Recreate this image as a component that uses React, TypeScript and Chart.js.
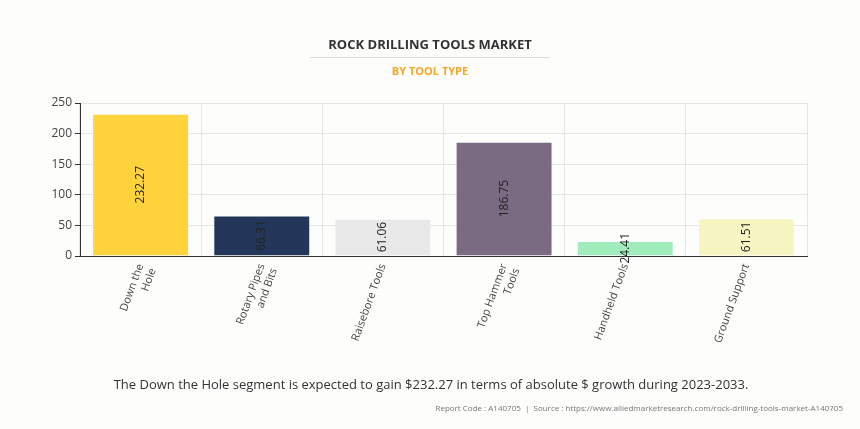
import React, { useEffect, useRef } from "react";
import { Chart, registerables } from "chart.js";

Chart.register(...registerables);

const categories: (string | string[])[] = [
  ["Down the", "Hole"],
  ["Rotary Pipes", "and Bits"],
  "Raisebore Tools",
  ["Top Hammer", "Tools"],
  "Handheld Tools",
  "Ground Support",
];
const values: number[] = [232.27, 66.31, 61.06, 186.75, 24.41, 61.51];
const barColors: string[] = ["#fed33c", "#24375a", "#e8e8e8", "#7a6a82", "#a0ecbc", "#f7f6c2"];
const yTicks: number[] = [0, 50, 100, 150, 200, 250];

const TITLE = "ROCK DRILLING TOOLS MARKET";
const SUBTITLE = "BY TOOL TYPE";
const FOOTNOTE = "The Down the Hole segment is expected to gain $232.27 in terms of absolute $ growth during 2023-2033.";
const SOURCE = "Report Code : A140705  |  Source : https://www.alliedmarketresearch.com/rock-drilling-tools-market-A140705";

const FONT = "'Open Sans', sans-serif";
const BG = "#fdfdfc";

const textPlugin = {
  id: "texts",
  beforeDraw(chart: any) {
    const ctx = chart.ctx;
    ctx.save();
    ctx.fillStyle = BG;
    ctx.fillRect(0, 0, chart.width, chart.height);
    ctx.restore();
  },
  afterDraw(chart: any) {
    const ctx = chart.ctx;
    ctx.save();
    ctx.textAlign = "center";
    ctx.textBaseline = "middle";
    ctx.fillStyle = "#333";
    ctx.font = `bold 13px ${FONT}`;
    ctx.fillText(TITLE, 430, 45);
    ctx.strokeStyle = "#dddddd";
    ctx.lineWidth = 1;
    ctx.beginPath();
    ctx.moveTo(310, 57.5);
    ctx.lineTo(550, 57.5);
    ctx.stroke();
    ctx.fillStyle = "#f5a623";
    ctx.font = `bold 11px ${FONT}`;
    ctx.fillText(SUBTITLE, 430, 72);
    ctx.fillStyle = "#333";
    ctx.font = `13px ${FONT}`;
    ctx.fillText(FOOTNOTE, 431, 385);
    ctx.textAlign = "right";
    ctx.fillStyle = "#777";
    ctx.font = `8px ${FONT}`;
    ctx.fillText(SOURCE, 843, 409);
    ctx.restore();
  },
  afterDatasetsDraw(chart: any) {
    const ctx = chart.ctx;
    const meta = chart.getDatasetMeta(0);
    ctx.save();
    ctx.font = `12px ${FONT}`;
    ctx.fillStyle = "#222";
    ctx.textAlign = "center";
    ctx.textBaseline = "middle";
    meta.data.forEach((bar: any, i: number) => {
      const cy = (bar.y + bar.base) / 2;
      ctx.save();
      ctx.translate(bar.x, cy);
      ctx.rotate(-Math.PI / 2);
      ctx.fillText(values[i].toFixed(2), 0, 0);
      ctx.restore();
    });
    ctx.restore();
  },
};

export default function App() {
  const ref = useRef<HTMLCanvasElement>(null);
  useEffect(() => {
    document.body.style.margin = "0";
    document.body.style.background = BG;
    const chart = new Chart(ref.current!, {
      type: "bar",
      data: {
        labels: categories,
        datasets: [
          {
            data: values,
            backgroundColor: barColors,
            borderColor: "rgba(255,255,255,0.35)",
            borderWidth: 1,
            barPercentage: 0.8,
            categoryPercentage: 1,
          },
        ],
      },
      options: {
        animation: false,
        responsive: false,
        maintainAspectRatio: false,
        layout: { padding: { left: 0, top: 103, right: 53, bottom: 0 } },
        plugins: { legend: { display: false }, tooltip: { enabled: false } },
        scales: {
          x: {
            grid: { color: "#e6e6e6", offset: true, drawTicks: false },
            border: { color: "#333", width: 1 },
            ticks: {
              color: "#444",
              font: { family: FONT, size: 11 },
              minRotation: 70,
              maxRotation: 70,
              autoSkip: false,
              padding: 6,
            },
            afterFit: (s: any) => {
              s.height = 173;
            },
          },
          y: {
            min: 0,
            max: 250,
            afterBuildTicks: (s: any) => {
              s.ticks = yTicks.map((v) => ({ value: v }));
            },
            grid: { color: "#e6e6e6", tickLength: 5, tickColor: "#333" },
            border: { color: "#333", width: 1 },
            ticks: { color: "#444", font: { family: FONT, size: 12 }, padding: 3 },
            afterFit: (s: any) => {
              s.width = 80;
            },
          },
        },
      },
      plugins: [textPlugin],
    });
    return () => chart.destroy();
  }, []);
  return <canvas ref={ref} width={860} height={429} style={{ display: "block" }} />;
}
